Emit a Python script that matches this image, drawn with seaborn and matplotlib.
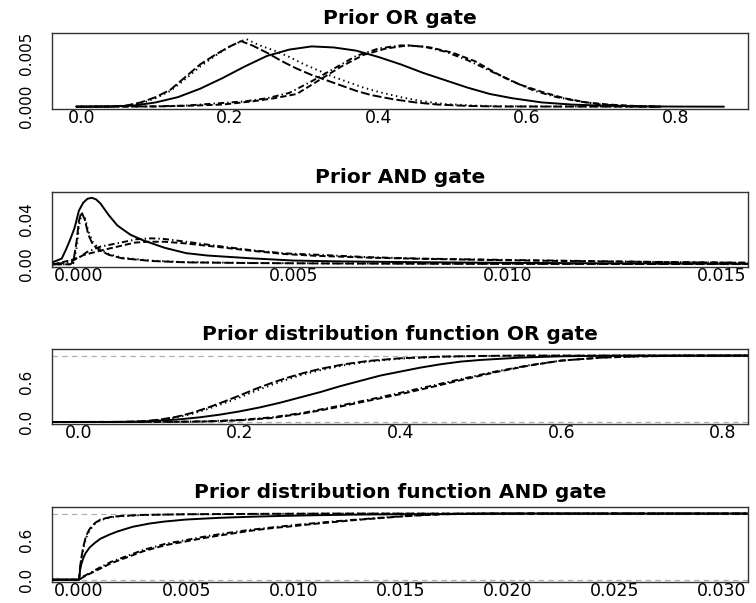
import numpy as np
import pandas as pd
import matplotlib
matplotlib.use("Agg")
import matplotlib.pyplot as plt
import seaborn as sns

# ---------------- data ----------------
titles = ["Prior OR gate", "Prior AND gate",
          "Prior distribution function OR gate",
          "Prior distribution function AND gate"]

# Panel 1: prior density, OR gate
p1_s1_x = [-0.007, 0.04, 0.07, 0.10, 0.13, 0.16, 0.19, 0.22, 0.25, 0.28, 0.31, 0.34, 0.37,
           0.40, 0.43, 0.46, 0.49, 0.52, 0.55, 0.58, 0.62, 0.66, 0.70, 0.75, 0.80, 0.865]
p1_s1_y = [0, 0.00002, 0.0001, 0.0004, 0.0009, 0.0017, 0.0027, 0.0038, 0.0048, 0.0054, 0.0057,
           0.0056, 0.0053, 0.0047, 0.0040, 0.0032, 0.0025, 0.0018, 0.0012, 0.0008, 0.0004,
           0.0002, 0.0001, 0.00003, 0.00001, 0]
p1_s2_x = [-0.007, 0.04, 0.06, 0.08, 0.10, 0.12, 0.14, 0.16, 0.18, 0.20, 0.215, 0.23, 0.25,
           0.27, 0.29, 0.31, 0.33, 0.35, 0.37, 0.39, 0.42, 0.45, 0.48, 0.52, 0.56, 0.78]
p1_s2_y = [0, 0.00002, 0.0001, 0.0004, 0.0009, 0.0016, 0.0028, 0.0040, 0.0049, 0.0057, 0.0062,
           0.0058, 0.0051, 0.0043, 0.0036, 0.0030, 0.0025, 0.0020, 0.0015, 0.0011, 0.0007,
           0.0004, 0.0002, 0.00007, 0.00002, 0]
p1_s3_x = [-0.007, 0.04, 0.06, 0.08, 0.10, 0.12, 0.14, 0.16, 0.18, 0.20, 0.222, 0.24, 0.26,
           0.28, 0.30, 0.32, 0.34, 0.36, 0.38, 0.40, 0.43, 0.46, 0.49, 0.53, 0.57, 0.78]
p1_s3_y = [0, 0.00001, 0.00008, 0.0003, 0.0008, 0.0015, 0.0026, 0.0038, 0.0048, 0.0057, 0.0064,
           0.0058, 0.0053, 0.0047, 0.0040, 0.0034, 0.0028, 0.0023, 0.0018, 0.0014, 0.0009,
           0.0005, 0.00025, 0.0001, 0.00003, 0]
p1_s4_x = [-0.007, 0.10, 0.15, 0.19, 0.23, 0.26, 0.29, 0.32, 0.35, 0.38, 0.41, 0.44, 0.47,
           0.50, 0.53, 0.56, 0.59, 0.62, 0.65, 0.68, 0.71, 0.75, 0.78]
p1_s4_y = [0, 0.00002, 0.0001, 0.0002, 0.0005, 0.0008, 0.0012, 0.0025, 0.0038, 0.0049, 0.0055,
           0.0058, 0.0056, 0.0051, 0.0043, 0.0031, 0.0021, 0.0014, 0.0008, 0.0004, 0.0002,
           0.00005, 0]
p1_s5_x = [-0.007, 0.10, 0.14, 0.18, 0.22, 0.25, 0.28, 0.31, 0.34, 0.37, 0.40, 0.43, 0.46,
           0.49, 0.52, 0.55, 0.58, 0.61, 0.64, 0.67, 0.70, 0.74, 0.78]
p1_s5_y = [0, 0.00003, 0.0001, 0.0003, 0.0005, 0.0008, 0.0013, 0.0024, 0.0036, 0.0048, 0.0055,
           0.0058, 0.0057, 0.0052, 0.0044, 0.0034, 0.0024, 0.0015, 0.0009, 0.0005, 0.0002,
           0.00005, 0]

# Panel 2: prior density, AND gate
p2_s1_x = [-0.0006, -0.0004, -0.0003, -0.0002, -0.0001, 0.0, 0.0001, 0.0002, 0.0003, 0.0004,
           0.0005, 0.0007, 0.0009, 0.0012, 0.0015, 0.002, 0.0025, 0.003, 0.004, 0.005, 0.006,
           0.008, 0.010, 0.012, 0.0156]
p2_s1_y = [0.002, 0.005, 0.013, 0.022, 0.032, 0.047, 0.054, 0.0575, 0.0584, 0.057, 0.0535,
           0.043, 0.034, 0.026, 0.021, 0.0145, 0.0098, 0.0077, 0.0053, 0.0033, 0.0026, 0.0018,
           0.0013, 0.0009, 0.0005]
p2_s2_x = [-0.0006, -0.0002, -0.00013, -0.00005, 0.0, 0.00006, 0.00014, 0.00022, 0.00033,
           0.0005, 0.0007, 0.001, 0.0017, 0.0025, 0.004, 0.006, 0.009, 0.012, 0.0156]
p2_s2_y = [0, 0.0, 0.002, 0.021, 0.038, 0.046, 0.039, 0.026, 0.017, 0.012, 0.0083, 0.0053,
           0.0029, 0.0017, 0.0011, 0.0007, 0.0004, 0.0003, 0.0002]
p2_s3_x = p2_s2_x
p2_s3_y = [0, 0, 0.001, 0.015, 0.033, 0.044, 0.041, 0.029, 0.019, 0.013, 0.009, 0.0058,
           0.0032, 0.0019, 0.0012, 0.0008, 0.0005, 0.0003, 0.0002]
p2_s4_x = [-0.0006, -0.0002, 0.0, 0.0001, 0.0005, 0.0009, 0.0013, 0.0016, 0.002, 0.0025,
           0.0032, 0.004, 0.0048, 0.0055, 0.0068, 0.008, 0.0099, 0.012, 0.0135, 0.0156]
p2_s4_y = [0.0, 0.0035, 0.006, 0.008, 0.012, 0.0155, 0.019, 0.0198, 0.0198, 0.0183, 0.0154,
           0.012, 0.009, 0.0075, 0.0058, 0.0048, 0.0036, 0.0026, 0.002, 0.0013]
p2_s5_x = [-0.0006, -0.0002, 0.0, 0.0002, 0.0005, 0.0009, 0.00135, 0.0017, 0.002, 0.0025,
           0.0032, 0.004, 0.0048, 0.0055, 0.0068, 0.008, 0.0099, 0.012, 0.0135, 0.0156]
p2_s5_y = [0.0, 0.002, 0.006, 0.011, 0.0155, 0.0185, 0.022, 0.0228, 0.0222, 0.0198, 0.0163,
           0.0125, 0.0096, 0.0085, 0.0062, 0.005, 0.0039, 0.0028, 0.0021, 0.0014]

# Panel 3: prior distribution function, OR gate
p3_s1_x = [-0.033, 0.05, 0.08, 0.10, 0.125, 0.15, 0.175, 0.20, 0.225, 0.25, 0.275, 0.30,
           0.325, 0.35, 0.375, 0.40, 0.425, 0.45, 0.475, 0.50, 0.55, 0.60, 0.65, 0.70, 0.832]
p3_s1_y = [0, 0, 0.005, 0.02, 0.04, 0.07, 0.11, 0.16, 0.22, 0.29, 0.37, 0.45, 0.54, 0.62, 0.70,
           0.76, 0.82, 0.87, 0.91, 0.935, 0.97, 0.99, 0.997, 1.0, 1.0]
p3_s2_x = [-0.033, 0.04, 0.06, 0.08, 0.10, 0.12, 0.14, 0.16, 0.18, 0.20, 0.22, 0.24, 0.26,
           0.28, 0.30, 0.33, 0.36, 0.40, 0.45, 0.50, 0.55, 0.832]
p3_s2_y = [0, 0, 0.003, 0.012, 0.035, 0.075, 0.135, 0.215, 0.305, 0.40, 0.50, 0.59, 0.67,
           0.74, 0.80, 0.87, 0.92, 0.96, 0.985, 0.995, 1.0, 1.0]
p3_s3_x = p3_s2_x
p3_s3_y = [0, 0, 0.002, 0.009, 0.028, 0.065, 0.12, 0.195, 0.28, 0.37, 0.47, 0.56, 0.645,
           0.72, 0.78, 0.855, 0.91, 0.955, 0.982, 0.994, 1.0, 1.0]
p3_s4_x = [-0.033, 0.12, 0.16, 0.20, 0.24, 0.28, 0.32, 0.36, 0.40, 0.44, 0.48, 0.52, 0.56,
           0.60, 0.65, 0.70, 0.75, 0.832]
p3_s4_y = [0, 0.002, 0.008, 0.025, 0.06, 0.13, 0.22, 0.32, 0.42, 0.53, 0.645, 0.755, 0.85,
           0.925, 0.97, 0.99, 0.998, 1.0]
p3_s5_x = p3_s4_x
p3_s5_y = [0, 0.003, 0.011, 0.03, 0.07, 0.14, 0.235, 0.335, 0.44, 0.55, 0.66, 0.765, 0.855,
           0.925, 0.97, 0.99, 0.998, 1.0]

# Panel 4: prior distribution function, AND gate
p4_s1_x = [-0.00125, 0.0, 0.00005, 0.0001, 0.0002, 0.0003, 0.0005, 0.00075, 0.001, 0.0014,
           0.0018, 0.0025, 0.0033, 0.004, 0.005, 0.0065, 0.008, 0.0095, 0.011, 0.013, 0.015,
           0.018, 0.021, 0.0312]
p4_s1_y = [0, 0, 0.15, 0.23, 0.33, 0.40, 0.49, 0.56, 0.62, 0.68, 0.73, 0.80, 0.85, 0.88, 0.91,
           0.935, 0.952, 0.965, 0.975, 0.985, 0.99, 0.996, 1.0, 1.0]
p4_s2_x = [-0.00125, 0.0, 0.00005, 0.0001, 0.0002, 0.0003, 0.0004, 0.0005, 0.00075, 0.001,
           0.0015, 0.002, 0.003, 0.005, 0.008, 0.012, 0.0312]
p4_s2_y = [0, 0, 0.2, 0.32, 0.50, 0.63, 0.71, 0.77, 0.86, 0.91, 0.95, 0.965, 0.98, 0.99,
           0.995, 1.0, 1.0]
p4_s3_x = p4_s2_x
p4_s3_y = [0, 0, 0.17, 0.29, 0.47, 0.60, 0.69, 0.75, 0.85, 0.90, 0.945, 0.962, 0.978, 0.99,
           0.995, 1.0, 1.0]
p4_s4_x = [-0.00125, 0.0, 0.0002, 0.0005, 0.001, 0.0015, 0.002, 0.003, 0.004, 0.005, 0.006,
           0.007, 0.008, 0.009, 0.010, 0.011, 0.012, 0.013, 0.014, 0.015, 0.016, 0.017, 0.019,
           0.0312]
p4_s4_y = [0, 0, 0.04, 0.09, 0.17, 0.25, 0.31, 0.43, 0.52, 0.58, 0.64, 0.69, 0.74, 0.78, 0.81,
           0.845, 0.875, 0.905, 0.93, 0.955, 0.975, 0.99, 1.0, 1.0]
p4_s5_x = p4_s4_x
p4_s5_y = [0, 0, 0.05, 0.10, 0.19, 0.27, 0.33, 0.45, 0.54, 0.60, 0.66, 0.71, 0.755, 0.79,
           0.825, 0.855, 0.885, 0.91, 0.935, 0.958, 0.977, 0.99, 1.0, 1.0]

x_ticks = [[0.0, 0.2, 0.4, 0.6, 0.8],
           [0.0, 0.005, 0.010, 0.015],
           [0.0, 0.2, 0.4, 0.6, 0.8],
           [0.0, 0.005, 0.010, 0.015, 0.020, 0.025, 0.030]]
x_ticklabels = [["0.0", "0.2", "0.4", "0.6", "0.8"],
                ["0.000", "0.005", "0.010", "0.015"],
                ["0.0", "0.2", "0.4", "0.6", "0.8"],
                ["0.000", "0.005", "0.010", "0.015", "0.020", "0.025", "0.030"]]
y_ticks = [[0.000, 0.001, 0.002, 0.003, 0.004, 0.005, 0.006],
           [0.00, 0.01, 0.02, 0.03, 0.04, 0.05],
           [0.0, 0.2, 0.4, 0.6, 0.8, 1.0],
           [0.0, 0.2, 0.4, 0.6, 0.8, 1.0]]
y_ticklabels = [["0.000", "", "", "", "", "0.005", ""],
                ["0.00", "", "", "", "0.04", ""],
                ["0.0", "", "", "0.6", "", ""],
                ["0.0", "", "", "0.6", "", ""]]

# ---------------- styling ----------------
sns.set_style("white")
plt.rcParams["font.family"] = ["DejaVu Sans"]
plt.rcParams["lines.scale_dashes"] = False
plt.rcParams["text.color"] = "black"

styles = {
    "s1": "-",
    "s2": (0, (6.5, 2.2)),            # long dash
    "s3": (0, (1.0, 2.6)),            # dotted
    "s4": (0, (4.5, 2.2)),            # dashed
    "s5": (0, (1.0, 2.2, 4.5, 2.2)),  # dot-dash
}

panels = [
    {"s1": (p1_s1_x, p1_s1_y), "s2": (p1_s2_x, p1_s2_y), "s3": (p1_s3_x, p1_s3_y),
     "s4": (p1_s4_x, p1_s4_y), "s5": (p1_s5_x, p1_s5_y)},
    {"s1": (p2_s1_x, p2_s1_y), "s2": (p2_s2_x, p2_s2_y), "s3": (p2_s3_x, p2_s3_y),
     "s4": (p2_s4_x, p2_s4_y), "s5": (p2_s5_x, p2_s5_y)},
    {"s1": (p3_s1_x, p3_s1_y), "s2": (p3_s2_x, p3_s2_y), "s3": (p3_s3_x, p3_s3_y),
     "s4": (p3_s4_x, p3_s4_y), "s5": (p3_s5_x, p3_s5_y)},
    {"s1": (p4_s1_x, p4_s1_y), "s2": (p4_s2_x, p4_s2_y), "s3": (p4_s3_x, p4_s3_y),
     "s4": (p4_s4_x, p4_s4_y), "s5": (p4_s5_x, p4_s5_y)},
]

xlims = [(-0.039, 0.897), (-0.00062, 0.0156), (-0.0332, 0.8317), (-0.00125, 0.03122)]
ylims = [(-0.00022, 0.00694), (-0.0021, 0.0632), (-0.035, 1.095), (-0.035, 1.095)]

W, H = 756, 603
boxes_px = [(52.3, 33.3, 747.7, 109.0),
            (52.3, 192.3, 747.7, 266.7),
            (52.3, 349.3, 747.7, 424.3),
            (52.3, 507.3, 747.7, 582.0)]

fig = plt.figure(figsize=(W / 100, H / 100), dpi=100)
fig.patch.set_facecolor("white")

for i, (x0, y0, x1, y1) in enumerate(boxes_px):
    ax = fig.add_axes([x0 / W, 1 - y1 / H, (x1 - x0) / W, (y1 - y0) / H])
    if i >= 2:
        ax.axhline(0, color="#b0b0b0", lw=0.9, ls=(0, (4, 3)), zorder=1)
        ax.axhline(1, color="#b0b0b0", lw=0.9, ls=(0, (4, 3)), zorder=1)
    for key in ["s4", "s5", "s2", "s3", "s1"]:
        xs, ys = panels[i][key]
        sns.lineplot(x=xs, y=ys, ax=ax, color="black", linewidth=1.4,
                     linestyle=styles[key], estimator=None, sort=False, zorder=3)
    ax.set_xlim(*xlims[i])
    ax.set_ylim(*ylims[i])
    ax.set_xticks(x_ticks[i])
    ax.set_xticklabels(x_ticklabels[i], fontsize=12.5)
    ax.set_yticks(y_ticks[i])
    ax.set_yticklabels(y_ticklabels[i], fontsize=11, rotation=90, va="center")
    ax.tick_params(axis="x", direction="out", length=3, width=0.9, color="#333333",
                   pad=-3, labelcolor="black")
    ax.tick_params(axis="y", direction="out", length=4, width=0.9, color="#333333",
                   pad=9, labelcolor="black")
    for sp in ax.spines.values():
        sp.set_visible(True)
        sp.set_color("#333333")
        sp.set_linewidth(1.0)
    ax.set_xlabel("")
    ax.set_ylabel("")
    ax.set_title(titles[i], fontsize=14.5, fontweight="bold", pad=7, color="black")
    ax.grid(False)

fig.savefig("out.png", dpi=100, facecolor="white")
